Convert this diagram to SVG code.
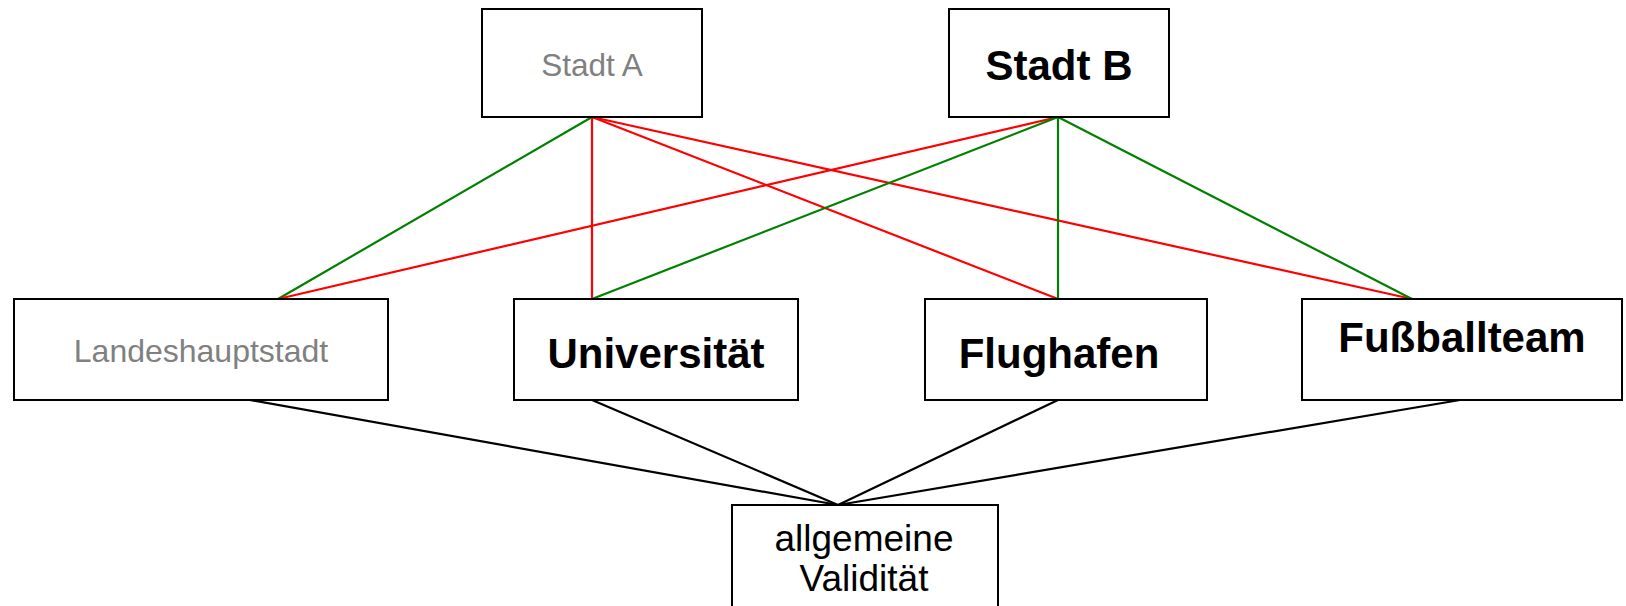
<svg xmlns="http://www.w3.org/2000/svg" width="1626" height="606" viewBox="0 0 1626 606">
<style>
.box{fill:#fff;stroke:#000;stroke-width:2}
.t{font-family:"Liberation Sans",Arial,sans-serif;text-anchor:middle}
.g{fill:#808080;font-size:31.5px}
.b{fill:#000;font-size:42px;font-weight:bold}
.n{fill:#000;font-size:37px}
.gr{stroke:#008000;stroke-width:2.2;fill:none}
.rd{stroke:#ff0000;stroke-width:2.2;fill:none}
.bk{stroke:#000;stroke-width:2.2;fill:none}
</style>
<rect width="1626" height="606" fill="#fff"/>
<g id="connectors">
<line class="gr" x1="592" y1="117" x2="278" y2="299"/>
<line class="rd" x1="592" y1="117" x2="592" y2="299"/>
<line class="rd" x1="592" y1="117" x2="1058" y2="299"/>
<line class="rd" x1="592" y1="117" x2="1412" y2="299"/>
<line class="rd" x1="1058" y1="117" x2="278" y2="299"/>
<line class="gr" x1="1058" y1="117" x2="592" y2="299"/>
<line class="gr" x1="1058" y1="117" x2="1058" y2="299"/>
<line class="gr" x1="1058" y1="117" x2="1412" y2="299"/>
<line class="bk" x1="250" y1="400" x2="838" y2="505"/>
<line class="bk" x1="592" y1="400" x2="838" y2="505"/>
<line class="bk" x1="1058" y1="400" x2="838" y2="505"/>
<line class="bk" x1="1460" y1="400" x2="838" y2="505"/>
</g>
<g id="stadtA"><rect class="box" x="482" y="9" width="220" height="108"/><text class="t g" x="592" y="76">Stadt A</text></g>
<g id="stadtB"><rect class="box" x="949" y="9" width="220" height="108"/><text class="t b" x="1059" y="80">Stadt B</text></g>
<g id="landeshauptstadt"><rect class="box" x="14" y="299" width="374" height="101"/><text class="t g" x="201" y="362" style="font-size:32px">Landeshauptstadt</text></g>
<g id="universitaet"><rect class="box" x="514" y="299" width="284" height="101"/><text class="t b" x="656" y="368">Universität</text></g>
<g id="flughafen"><rect class="box" x="925" y="299" width="282" height="101"/><text class="t b" x="1059" y="368">Flughafen</text></g>
<g id="fussballteam"><rect class="box" x="1302" y="299" width="320" height="101"/><text class="t b" x="1462" y="352">Fußballteam</text></g>
<g id="validitaet"><rect class="box" x="732" y="505" width="266" height="110"/><text class="t n" x="864" y="551">allgemeine</text><text class="t n" x="864" y="591">Validität</text></g>
</svg>
